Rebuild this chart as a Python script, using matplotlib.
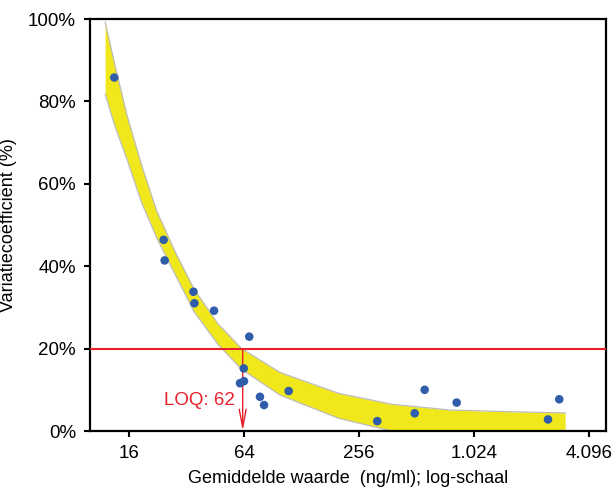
import matplotlib
matplotlib.use("Agg")
import matplotlib.pyplot as plt
import numpy as np

plt.rcParams['font.family'] = ['Liberation Sans', 'DejaVu Sans']

# Measured points: mean value (ng/ml) and CV (%)
conc = [13.4, 24.3, 24.6, 34.8, 35.2, 44.6, 68.2, 63.8, 61.0, 64.0,
        77.6, 81.5, 109.7, 319, 501, 565, 831, 2499, 2862]
cv = [85.8, 46.4, 41.4, 33.8, 31.0, 29.2, 22.9, 15.2, 11.6, 12.1,
      8.3, 6.3, 9.7, 2.4, 4.3, 10.0, 6.9, 2.8, 7.7]

# Confidence band
band_x = [12, 13.5, 15.6, 18.6, 22.3, 27.9, 35, 46.8, 62.2, 99, 200, 380, 765, 1520, 3072]
band_upper = [99.3, 88.8, 76.7, 64.6, 53.5, 43.5, 34.5, 26, 20, 14.2, 9.15, 6.5, 5.1, 4.7, 4.4]
band_lower = [81.8, 74, 66, 55.5, 47, 38, 29, 21, 15, 8.7, 3.1, 0, 0, 0, 0]

loq_value = 63
loq_label = "LOQ: 62"
cv_limit = 20

xticks = [16, 64, 256, 1024, 4096]
xtick_labels = ["16", "64", "256", "1.024", "4.096"]
yticks = [0, 20, 40, 60, 80, 100]
ytick_labels = ["0%", "20%", "40%", "60%", "80%", "100%"]

fig = plt.figure(figsize=(6.14, 4.87), dpi=100)
ax = fig.add_axes([90/614, 1-431/487, (606-90)/614, (431-19)/487])

yellow = "#F1E81C"
red = "#E8202A"
blue = "#2F5DA9"

ax.fill_between(band_x, band_lower, band_upper, color=yellow, linewidth=0, zorder=1)
ax.plot(band_x, band_upper, color="#BDBDBD", lw=0.9, zorder=2)
ax.plot(band_x, band_lower, color="#BDBDBD", lw=0.9, zorder=2)

ax.axhline(cv_limit, color=red, lw=1.5, zorder=3)
ax.annotate("", xy=(loq_value, 0), xytext=(loq_value, cv_limit),
            arrowprops=dict(arrowstyle="->,head_length=1.3,head_width=0.25",
                            color=red, lw=1.0, shrinkA=0, shrinkB=0), zorder=4)
ax.text(57, 7.4, loq_label, color=red, fontsize=13.5, ha="right", va="center", zorder=5)

ax.scatter(conc, cv, s=38, color=blue, edgecolors="none", zorder=6)

ax.set_xscale("log", base=2)
ax.set_xlim(10, 5028)
ax.set_ylim(0, 100)
ax.set_xticks(xticks)
ax.set_xticklabels(xtick_labels)
ax.xaxis.set_minor_locator(matplotlib.ticker.NullLocator())
ax.set_yticks(yticks)
ax.set_yticklabels(ytick_labels)

for s in ax.spines.values():
    s.set_linewidth(1.6)
ax.tick_params(axis="both", direction="out", length=4, width=1.5, labelsize=13.5, pad=6)

ax.set_xlabel("Gemiddelde waarde  (ng/ml); log-schaal", fontsize=13, labelpad=6)
ax.set_ylabel("Variatiecoëfficiënt (%)", fontsize=13, labelpad=8)

fig.savefig("out.png", dpi=100)
